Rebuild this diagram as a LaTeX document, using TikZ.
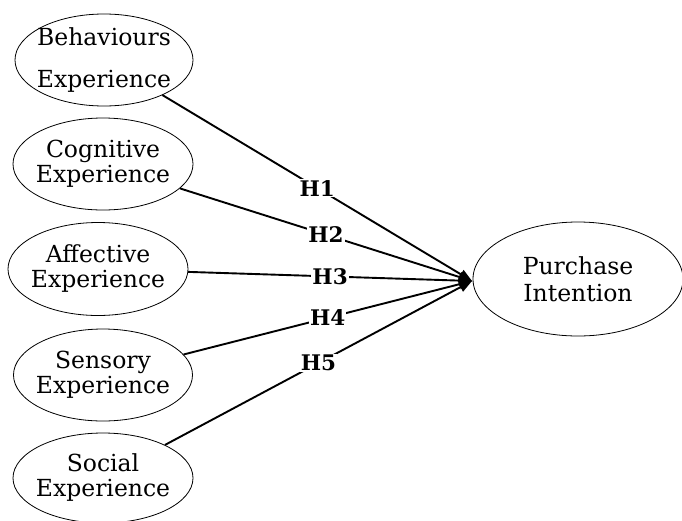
\documentclass[tikz,border=0pt]{standalone}
\usepackage{fontspec}
\setmainfont{DejaVu Serif}
\usetikzlibrary{shapes.geometric,arrows.meta}
\begin{document}
\begin{tikzpicture}[x=1pt,y=-1pt,
  construct/.style={draw=black,line width=0.8pt,ellipse,inner xsep=-12pt,inner ysep=0pt,
    align=center,font=\fontsize{23.5}{25}\selectfont},
  link/.style={line width=1.9pt,-{Triangle[length=13pt,width=10pt]}},
  hyp/.style={fill=white,inner sep=1pt,font=\fontsize{21.5}{22}\selectfont\bfseries}]
\useasboundingbox (0,0) rectangle (682,520);
\node[construct,minimum width=178pt,minimum height=92pt,font=\fontsize{23.5}{42}\selectfont] (beh) at (104,60) {Behaviours\\Experience};
\node[construct,minimum width=180pt,minimum height=92pt] (cog) at (103,164) {Cognitive\\Experience};
\node[construct,minimum width=180pt,minimum height=93pt] (aff) at (98,269) {Affective\\Experience};
\node[construct,minimum width=179pt,minimum height=92pt] (sen) at (103,375) {Sensory\\Experience};
\node[construct,minimum width=180pt,minimum height=90pt] (soc) at (103,478) {Social\\Experience};
\node[construct,minimum width=210pt,minimum height=114pt,font=\fontsize{23.5}{27}\selectfont] (pur) at (578,279) {Purchase\\Intention};
\coordinate (tip) at (472,281);
\draw[link] (beh) -- node[hyp]{H1} (tip);
\draw[link] (cog) -- node[hyp]{H2} (tip);
\draw[link] (aff) -- node[hyp]{H3} (tip);
\draw[link] (sen) -- node[hyp]{H4} (tip);
\draw[link] (soc) -- node[hyp]{H5} (tip);
\end{tikzpicture}
\end{document}
